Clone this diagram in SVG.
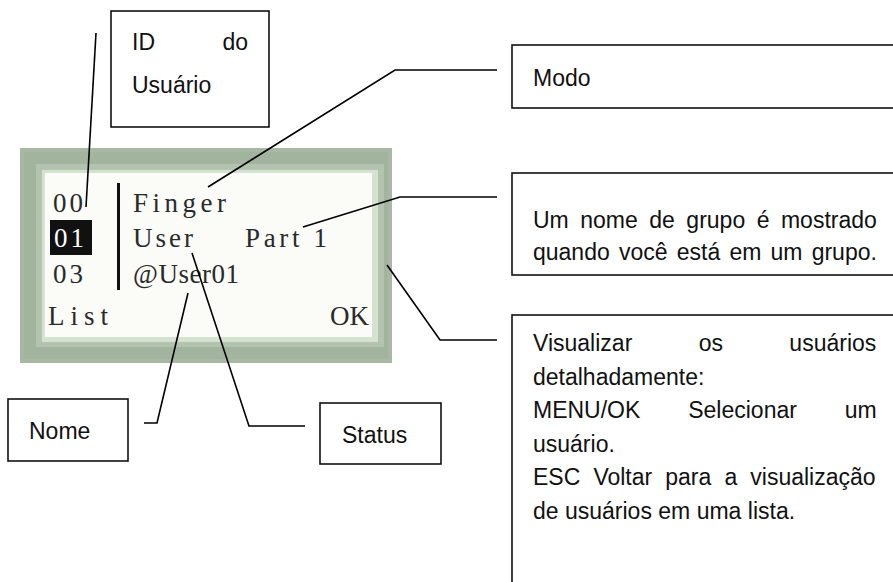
<svg xmlns="http://www.w3.org/2000/svg" width="893" height="582" viewBox="0 0 893 582">
<style>
.box{fill:#fff;stroke:#111;stroke-width:1.6}
.t{font-family:"Liberation Sans",Arial,sans-serif;font-size:23px;fill:#111}
.lcd{font-family:"Liberation Serif","Times New Roman",serif;font-size:27px;fill:#2a2a2a}
.con{fill:none;stroke:#000;stroke-width:1.6}
</style>
<rect width="893" height="582" fill="#fff"/>
<g id="lcd">
<rect x="20" y="148" width="372" height="215" fill="#a8b8a4"/>
<rect x="24" y="152" width="364" height="207" fill="#a2b39e"/>
<rect x="36" y="164" width="348" height="183" fill="#b4c3b0"/>
<rect x="42" y="170" width="336" height="172" fill="#d6e2d0"/>
<rect x="45" y="173" width="327" height="164" fill="#fbfcf8"/>
<rect x="117" y="183" width="3" height="107" fill="#111"/>
<rect x="50" y="220" width="42" height="35" fill="#111"/>
<text class="lcd" x="53" y="212" textLength="30" lengthAdjust="spacing">00</text>
<text class="lcd" x="54" y="247" textLength="30" lengthAdjust="spacing" style="fill:#fff">01</text>
<text class="lcd" x="53" y="283" textLength="30" lengthAdjust="spacing">03</text>
<text class="lcd" x="48" y="325" textLength="60" lengthAdjust="spacing">List</text>
<text class="lcd" x="330" y="325">OK</text>
<text class="lcd" x="133" y="212" textLength="93" lengthAdjust="spacing">Finger</text>
<text class="lcd" x="133" y="247" textLength="60" lengthAdjust="spacing">User</text>
<text class="lcd" x="245" y="247" textLength="82" lengthAdjust="spacing">Part 1</text>
<text class="lcd" x="133" y="283" textLength="106" lengthAdjust="spacing">@User01</text>
</g>
<g id="connectors">
<polyline class="con" points="96,33 86,207"/>
<polyline class="con" points="208,187 395,70 497,70"/>
<polyline class="con" points="303,227 400,197 497,197"/>
<polyline class="con" points="387,265 440,340 497,340"/>
<polyline class="con" points="188,293 157,423 144,423"/>
<polyline class="con" points="192,253 249,426 305,426"/>
</g>
<g id="id-usuario">
<rect class="box" x="111" y="11" width="158" height="116"/>
<text class="t" x="132" y="50">ID</text>
<text class="t" x="248" y="50" text-anchor="end">do</text>
<text class="t" x="132" y="93">Usuário</text>
</g>
<g id="modo">
<rect class="box" x="512" y="45" width="400" height="63"/>
<text class="t" x="533" y="86">Modo</text>
</g>
<g id="grupo">
<rect class="box" x="512" y="173" width="400" height="102"/>
<text class="t" x="533" y="228" word-spacing="5.1">Um nome de grupo é mostrado</text>
<text class="t" x="533" y="260" word-spacing="2.8">quando você está em um grupo.</text>
</g>
<g id="visualizar">
<rect class="box" x="512" y="315" width="400" height="300"/>
<text class="t" x="533" y="351" word-spacing="60">Visualizar os usuários</text>
<text class="t" x="533" y="385">detalhadamente:</text>
<text class="t" x="533" y="418" word-spacing="41.5">MENU/OK Selecionar um</text>
<text class="t" x="533" y="452">usuário.</text>
<text class="t" x="533" y="485" word-spacing="6.7">ESC Voltar para a visualização</text>
<text class="t" x="533" y="519">de usuários em uma lista.</text>
</g>
<g id="nome">
<rect class="box" x="8" y="399" width="120" height="62"/>
<text class="t" x="29" y="439">Nome</text>
</g>
<g id="status">
<rect class="box" x="320" y="403" width="121" height="61"/>
<text class="t" x="342" y="443">Status</text>
</g>
</svg>
